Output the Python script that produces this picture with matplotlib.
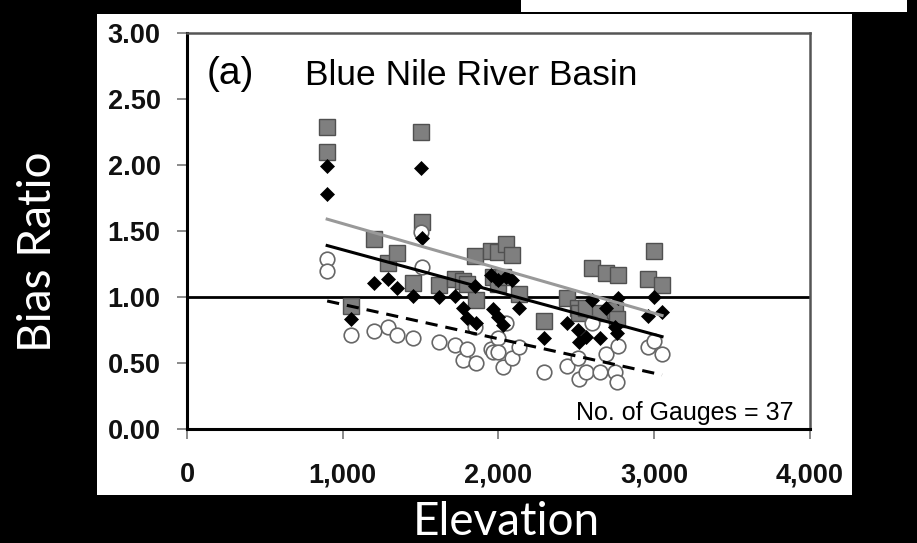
import matplotlib.pyplot as plt
from matplotlib.patches import Rectangle
from matplotlib.ticker import FuncFormatter

# gauge elevations (m) and bias ratios for the three products
elevation = [900, 900, 1050, 1200, 1290, 1350, 1450, 1500, 1510, 1620,
             1720, 1770, 1800, 1850, 1855, 1950, 1965, 2000, 2000, 2030,
             2050, 2085, 2130, 2290, 2440, 2510, 2520, 2560, 2600, 2650,
             2690, 2750, 2760, 2770, 2960, 3000, 3050]
bias_sq = [2.29, 2.10, 0.93, 1.44, 1.26, 1.33, 1.11, 2.25, 1.57, 1.09,
           1.14, 1.12, 1.10, 1.31, 0.98, 1.35, 1.15, 1.34, 1.10, 1.15,
           1.40, 1.32, 1.02, 0.82, 0.99, 0.92, 0.88, 0.92, 1.22, 0.88,
           1.18, 0.90, 0.83, 1.17, 1.14, 1.35, 1.09]
bias_dia = [1.99, 1.78, 0.83, 1.11, 1.14, 1.07, 1.01, 1.98, 1.45, 1.00,
            1.01, 0.92, 0.84, 1.08, 0.80, 1.17, 0.91, 1.13, 0.85, 0.79,
            1.15, 1.13, 0.92, 0.69, 0.80, 0.75, 0.66, 0.70, 0.98, 0.69,
            0.92, 0.77, 0.73, 0.99, 0.86, 1.00, 0.89]
bias_cir = [1.29, 1.20, 0.71, 0.74, 0.77, 0.71, 0.69, 1.49, 1.23, 0.66,
            0.64, 0.52, 0.61, 0.77, 0.50, 0.61, 0.58, 0.69, 0.58, 0.47,
            0.80, 0.54, 0.62, 0.43, 0.48, 0.54, 0.38, 0.43, 0.80, 0.43,
            0.57, 0.43, 0.36, 0.63, 0.62, 0.67, 0.57]

# linear trend lines (start / end)
trend_x = [900, 3050]
trend_sq = [1.59, 0.86]
trend_dia = [1.39, 0.70]
trend_cir = [0.97, 0.41]

fig = plt.figure(figsize=(9.17, 5.43), dpi=100, facecolor='black')
# white panel of the original figure
fig.add_artist(Rectangle((0.1058, 0.0884), 0.8233, 0.8858, transform=fig.transFigure,
                         facecolor='white', edgecolor='none', zorder=-10))
fig.add_artist(Rectangle((0.568, 0.978), 0.421, 0.03, transform=fig.transFigure,
                         facecolor='white', edgecolor='none', zorder=-10))

ax = fig.add_axes([0.2039, 0.2099, 0.6794, 0.7293])
ax.set_facecolor('white')

ax.plot(elevation, bias_sq, 's', ms=11.5, mfc='#7f7f7f', mec='#505050', mew=1.0, zorder=3)
ax.plot(elevation, bias_cir, 'o', ms=10.5, mfc='white', mec='#666666', mew=1.2, zorder=4)
ax.plot(elevation, bias_dia, 'D', ms=7.2, mfc='black', mec='black', mew=0.5, zorder=5)

ax.axhline(1.0, color='black', lw=2.0, zorder=2)
ax.plot(trend_x, trend_sq, color='#999999', lw=2.2, zorder=6)
ax.plot(trend_x, trend_dia, color='black', lw=2.2, zorder=6)
ax.plot(trend_x, trend_cir, color='black', lw=2.2, dashes=(4, 2.6), zorder=6)

ax.set_xlim(0, 4000)
ax.set_ylim(0, 3)
ax.set_xticks([0, 1000, 2000, 3000, 4000])
ax.set_yticks([0, 0.5, 1.0, 1.5, 2.0, 2.5, 3.0])
ax.xaxis.set_major_formatter(FuncFormatter(lambda v, p: f'{v:,.0f}'))
ax.yaxis.set_major_formatter(FuncFormatter(lambda v, p: f'{v:.2f}'))
ax.tick_params(axis='y', direction='out', length=7, width=1.2, color='#777777', pad=12)
ax.tick_params(axis='x', direction='out', length=7, width=1.2, color='#777777', pad=17)
for lab in ax.get_xticklabels() + ax.get_yticklabels():
    lab.set_fontfamily('Liberation Sans')
    lab.set_fontweight('bold')
    lab.set_fontsize(19.5)
    lab.set_color('#111111')

for side in ['left', 'bottom']:
    ax.spines[side].set_color('black')
    ax.spines[side].set_linewidth(2.2)
for side in ['top', 'right']:
    ax.spines[side].set_color('#555555')
    ax.spines[side].set_linewidth(1.8)

ax.text(0.032, 0.871, '(a)', transform=ax.transAxes, fontsize=28,
        family='Liberation Sans', va='baseline', ha='left')
ax.text(0.189, 0.869, 'Blue Nile River Basin', transform=ax.transAxes, fontsize=25.5,
        family='Liberation Sans', va='baseline', ha='left')
ax.text(0.973, 0.023, 'No. of Gauges = 37', transform=ax.transAxes, fontsize=18,
        family='Liberation Sans', va='baseline', ha='right')

fig.text(0.041, 0.537, 'Bias Ratio', rotation=90, color='white', fontsize=33,
         family='Lato', ha='center', va='center')
fig.text(0.552, 0.038, 'Elevation', color='white', fontsize=33,
         family='Lato', ha='center', va='center')

fig.savefig('out.png', dpi=100, facecolor='black')
